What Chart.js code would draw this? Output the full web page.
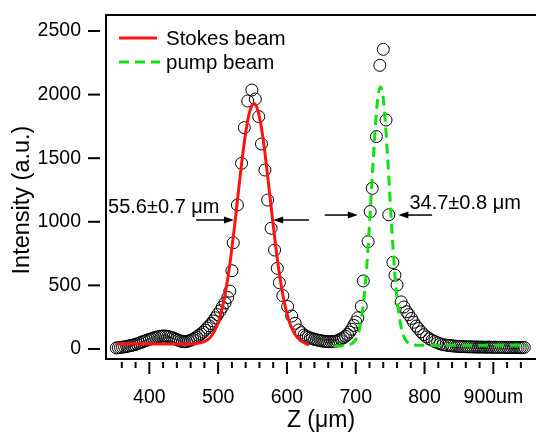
<!DOCTYPE html>
<html>
<head>
<meta charset="utf-8">
<script src="https://cdn.jsdelivr.net/npm/chart.js@4.4.0/dist/chart.umd.min.js"></script>
<style>
  html, body { margin: 0; padding: 0; background: #fff; }
  #wrap { width: 536px; height: 432px; }
</style>
</head>
<body>
<div id="wrap"><canvas id="beamChart" width="536" height="432"></canvas></div>
<script>
// measured profile (open circles), z in um
const zData = [
  352,355,358,361,364,367,370,373,376,379,382,385,388,391,394,397,400,403,406,409,
  412,415,418,421,424,427,430,433,436,439,442,445,448,451,454,457,460,463,466,469,
  472,475,478,481,484,487,490,493,496,499,
  503,506,510,514,517,520,522,528,534,538,543,549,554,559,563,568,572,577,582,586,
  589,594,601,607,612,617,621,625,
  628,631,634,637,640,643,646,649,652,655,658,661,664,667,670,673,676,679,682,685,
  688,691,694,697,700,703,708,711,718,721,724,730,735,740,744,748,
  754,757,760,766,770,774,777,781,784,788,791,795,799,803,807,811,815,819,823,827,831,
  834,837,840,843,846,849,852,855,858,861,864,867,870,873,876,879,882,885,888,891,
  894,897,900,903,906,909,912,915,918,921,924,927,930,933,936,939,942,945
];
const intensityData = [
  8,10,12,14,17,20,23,27,30,34,40,46,52,58,64,70,75,80,86,91,
  95,99,101,102,101,98,94,89,83,76,69,63,58,57,58,62,68,76,85,95,
  106,118,132,148,165,182,200,220,245,270,
  300,330,362,405,455,615,835,1132,1460,1740,1950,2036,1965,1827,1612,1407,1171,949,778,634,
  521,419,333,259,202,149,128,110,
  100,92,86,80,76,72,68,65,62,60,58,57,57,58,60,64,70,79,88,100,
  114,132,155,185,212,245,335,535,844,1080,1263,1670,2230,2356,1800,1055,
  680,580,503,370,330,293,270,240,210,180,160,135,112,95,80,68,58,48,40,34,30,
  29,27,24,23,21,21,19,18,19,17,16,17,16,15,16,14,15,15,13,14,
  15,13,13,14,12,13,14,12,12,13,11,12,13,11,12,10,11,12
];

// Gaussian fit curves
const stokesZ = [352,380,420,460,469,479,489,499,504,509,514,519,524,529,534,539,544,549,552,555,
  559,564,569,574,579,584,589,594,599,604,609,614,619,624,628,632];
const stokesFit = [40,40,39,39,43,55,93,190,278,398,556,750,974,1215,1453,1663,1824,1915,1931,1915,
  1849,1701,1498,1263,1022,793,592,427,299,205,140,97,70,52,40,32];
const pumpZ = [668,680,690,695,700,705,710,715,720,725,730,733,736,739,742,747,752,757,762,767,
  772,777,782,790,810,850,900,950];
const pumpFit = [22,26,34,44,74,148,305,580,982,1449,1855,2007,2060,2007,1855,1449,982,580,305,148,
  74,44,34,30,30,30,30,30];

// axes
const xMajorTicks = [400,500,600,700,800,900];
const xMajorLabels = ['400','500','600','700','800','900um'];
const xMinorTicks = [360,380,400,420,440,460,480,500,520,540,560,580,600,620,640,660,680,700,
  720,740,760,780,800,820,840,860,880,900,920,940];
const yTicks = [0,500,1000,1500,2000,2500];

// FWHM markers, in data units
const fwhmArrows = [
  { from: 468, to: 523, y: 1014 },
  { from: 632, to: 580, y: 1014 },
  { from: 655, to: 703, y: 1053 },
  { from: 811, to: 762, y: 1053 }
];
const fwhmTexts = [
  { text: '55.6\u00b10.7 \u03bcm', x: 340, y: 1116 },
  { text: '34.7\u00b10.8 \u03bcm', x: 778, y: 1140 }
];

const FONT = '"Liberation Sans", Arial, sans-serif';
const RED = '#ff1414';
const GREEN = '#10e010';

function line(ctx, x1, y1, x2, y2) {
  ctx.beginPath();
  ctx.moveTo(x1, y1);
  ctx.lineTo(x2, y2);
  ctx.stroke();
}

// keep Chart.js from shrinking the plot area for label overhang
function noPad(s) {
  s.paddingTop = 0;
  s.paddingBottom = 0;
  s.paddingLeft = 0;
  s.paddingRight = 0;
}

const decor = {
  id: 'decor',
  afterDraw(chart) {
    const { ctx, chartArea: a } = chart;
    const x = chart.scales.x, y = chart.scales.y;
    ctx.save();
    ctx.strokeStyle = '#000';
    ctx.fillStyle = '#000';
    ctx.lineWidth = 2;

    // frame (right side runs off the page)
    ctx.beginPath();
    ctx.moveTo(chart.width, a.top);
    ctx.lineTo(a.left, a.top);
    ctx.lineTo(a.left, a.bottom);
    ctx.lineTo(chart.width, a.bottom);
    ctx.stroke();

    // ticks, set off from the axis lines
    yTicks.forEach(v => {
      const py = y.getPixelForValue(v);
      line(ctx, a.left - 18, py, a.left - 6, py);
    });
    xMinorTicks.forEach(v => {
      const px = x.getPixelForValue(v);
      const len = xMajorTicks.includes(v) ? 12 : 6;
      line(ctx, px, a.bottom + 3, px, a.bottom + 3 + len);
    });

    // axis titles
    ctx.textAlign = 'center';
    ctx.textBaseline = 'middle';
    ctx.font = '23px ' + FONT;
    ctx.fillText('Z (\u03bcm)', 321, 421);
    ctx.save();
    ctx.translate(23, 200);
    ctx.rotate(-Math.PI / 2);
    ctx.font = '23.5px ' + FONT;
    ctx.fillText('Intensity (a.u.)', 0, 0);
    ctx.restore();

    // legend
    ctx.lineWidth = 3;
    ctx.strokeStyle = RED;
    line(ctx, 119, 38, 157, 38);
    ctx.strokeStyle = GREEN;
    ctx.setLineDash([10, 6]);
    line(ctx, 119, 62, 160, 62);
    ctx.setLineDash([]);
    ctx.textAlign = 'left';
    ctx.font = '20.5px ' + FONT;
    ctx.fillText('Stokes beam', 166, 39);
    ctx.fillText('pump beam', 166, 63);

    // FWHM arrows and labels
    ctx.strokeStyle = '#000';
    ctx.lineWidth = 1.5;
    fwhmArrows.forEach(ar => {
      const x1 = x.getPixelForValue(ar.from);
      const x2 = x.getPixelForValue(ar.to);
      const py = y.getPixelForValue(ar.y);
      const dir = Math.sign(x2 - x1);
      line(ctx, x1, py, x2 - dir * 6, py);
      ctx.beginPath();
      ctx.moveTo(x2, py);
      ctx.lineTo(x2 - dir * 10, py - 3.5);
      ctx.lineTo(x2 - dir * 10, py + 3.5);
      ctx.closePath();
      ctx.fill();
    });
    ctx.font = '20px ' + FONT;
    fwhmTexts.forEach(t => {
      ctx.fillText(t.text, x.getPixelForValue(t.x), y.getPixelForValue(t.y));
    });
    ctx.restore();
  }
};

const tickFont = { family: FONT, size: 19.5 };

new Chart(document.getElementById('beamChart'), {
  type: 'scatter',
  data: {
    datasets: [
      {
        label: 'Stokes beam',
        data: stokesZ.map((z, i) => ({ x: z, y: stokesFit[i] })),
        showLine: true,
        borderColor: RED,
        borderWidth: 3,
        pointRadius: 0,
        cubicInterpolationMode: 'monotone',
        order: 1
      },
      {
        label: 'pump beam',
        data: pumpZ.map((z, i) => ({ x: z, y: pumpFit[i] })),
        showLine: true,
        borderColor: GREEN,
        borderWidth: 3,
        borderDash: [10, 6],
        pointRadius: 0,
        cubicInterpolationMode: 'monotone',
        order: 2
      },
      {
        label: 'data',
        data: zData.map((z, i) => ({ x: z, y: intensityData[i] })),
        pointStyle: 'circle',
        pointRadius: 6,
        pointBorderWidth: 1,
        pointBorderColor: '#000',
        pointBackgroundColor: 'rgba(0,0,0,0)',
        order: 3
      }
    ]
  },
  options: {
    responsive: false,
    animation: false,
    devicePixelRatio: 1,
    layout: { autoPadding: false, padding: { top: 15, right: 0, left: 0, bottom: 0 } },
    plugins: { legend: { display: false }, tooltip: { enabled: false } },
    scales: {
      x: {
        type: 'linear',
        min: 337,
        max: 962,
        afterBuildTicks: s => { s.ticks = xMajorTicks.map(v => ({ value: v })); },
        afterFit: s => { s.height = 73; noPad(s); },
        grid: { display: false, drawTicks: false },
        border: { display: false },
        ticks: {
          padding: 27,
          color: '#000',
          font: tickFont,
          maxRotation: 0,
          autoSkip: false,
          callback: v => xMajorLabels[xMajorTicks.indexOf(v)]
        }
      },
      y: {
        min: -79,
        max: 2626,
        afterBuildTicks: s => { s.ticks = yTicks.map(v => ({ value: v })); },
        afterFit: s => { s.width = 106; noPad(s); },
        grid: { display: false, drawTicks: false },
        border: { display: false },
        ticks: { padding: 25, color: '#000', font: tickFont, callback: v => String(v) }
      }
    }
  },
  plugins: [decor]
});
</script>
</body>
</html>
